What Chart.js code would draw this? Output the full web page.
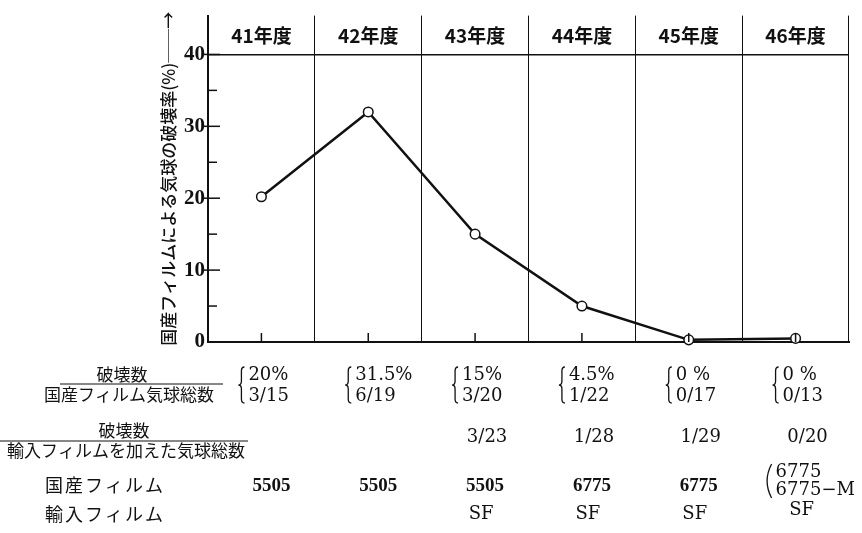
<!DOCTYPE html>
<html>
<head>
<meta charset="utf-8">
<script src="https://cdn.jsdelivr.net/npm/chart.js@4.4.0/dist/chart.umd.min.js"></script>
<style>
	html, body { margin: 0; padding: 0; background: #fff; }
</style>
</head>
<body>
<canvas id="chart" width="862" height="533"></canvas>
<script>
// 年度ごとの値
const years = ['41年度', '42年度', '43年度', '44年度', '45年度', '46年度'];
const breakRate = [20.2, 32, 15, 5, 0.3, 0.5];
const yTickValues = [0, 5, 10, 15, 20, 25, 30, 35, 40];

// 表の行
const rateText = ['20%', '31.5%', '15%', '4.5%', '0 %', '0 %'];
const domesticRatio = ['3/15', '6/19', '3/20', '1/22', '0/17', '0/13'];
const totalRatio = ['', '', '3/23', '1/28', '1/29', '0/20'];
const domesticFilm = [['5505'], ['5505'], ['5505'], ['6775'], ['6775'], ['6775', '6775−M']];
const importFilm = ['', '', 'SF', 'SF', 'SF', 'SF'];

const yTitle = '国産フィルムによる気球の破壊率(%)──→';
const row1Label = ['破壊数', '国産フィルム気球総数'];
const row2Label = ['破壊数', '輸入フィルムを加えた気球総数'];
const row3Label = '国産フィルム';
const row4Label = '輸入フィルム';

const INK = '#111';
const JP = '"Noto Sans CJK JP"';
const SERIF = '"DejaVu Serif"';
const BOLDSERIF = '"Liberation Serif"';

function brace(ctx, x, y1, y2) {
	const m = (y1 + y2) / 2;
	ctx.beginPath();
	ctx.moveTo(x + 6, y1);
	ctx.quadraticCurveTo(x + 3, y1, x + 3, y1 + 4);
	ctx.lineTo(x + 3, m - 4);
	ctx.quadraticCurveTo(x + 3, m, x, m);
	ctx.quadraticCurveTo(x + 3, m, x + 3, m + 4);
	ctx.lineTo(x + 3, y2 - 4);
	ctx.quadraticCurveTo(x + 3, y2, x + 6, y2);
	ctx.stroke();
}

function paren(ctx, x, y1, y2) {
	ctx.beginPath();
	ctx.moveTo(x + 7, y1);
	ctx.quadraticCurveTo(x - 2, (y1 + y2) / 2, x + 7, y2);
	ctx.stroke();
}

const tablePlugin = {
	id: 'tablePlugin',
	afterDraw(chart) {
		const ctx = chart.ctx;
		const xs = chart.scales.x;
		const ys = chart.scales.y;
		const area = chart.chartArea;
		ctx.save();
		ctx.strokeStyle = INK;
		ctx.fillStyle = INK;

		// y軸の目盛り
		ys.ticks.forEach((t) => {
			if (t.value === 0) return;
			const py = ys.getPixelForValue(t.value);
			ctx.lineWidth = 1.5;
			ctx.beginPath();
			if (t.value % 10 === 0) {
				ctx.moveTo(area.left - 6, py);
				ctx.lineTo(area.left + 12, py);
			} else {
				ctx.moveTo(area.left, py);
				ctx.lineTo(area.left + 9, py);
			}
			ctx.stroke();
		});
		// x軸の目盛り
		years.forEach((_, i) => {
			const px = xs.getPixelForValue(i);
			ctx.lineWidth = 1.5;
			ctx.beginPath();
			ctx.moveTo(px, area.bottom);
			ctx.lineTo(px, area.bottom - 9);
			ctx.stroke();
		});

		// 年度の見出し
		const headY = (area.top + ys.getPixelForValue(40)) / 2 + 1;
		ctx.textBaseline = 'middle';
		ctx.textAlign = 'center';
		ctx.font = 'bold 19px ' + JP;
		years.forEach((y, i) => ctx.fillText(y, xs.getPixelForValue(i), headY));

		// 左側の項目名
		ctx.font = '17px ' + JP;
		ctx.fillText(row1Label[0], 122, 375);
		ctx.fillText(row1Label[1], 129, 395);
		ctx.lineWidth = 1.2;
		ctx.beginPath(); ctx.moveTo(60, 384); ctx.lineTo(223, 384); ctx.stroke();
		ctx.fillText(row2Label[0], 124, 431);
		ctx.fillText(row2Label[1], 126, 451);
		ctx.beginPath(); ctx.moveTo(0, 441); ctx.lineTo(248, 441); ctx.stroke();
		ctx.textAlign = 'left';
		ctx.font = '18px ' + JP;
		ctx.letterSpacing = '2px';
		ctx.fillText(row3Label, 45, 485);
		ctx.fillText(row4Label, 45, 514);
		ctx.letterSpacing = '0px';

		// 各年度の値
		years.forEach((_, i) => {
			const cx = xs.getPixelForValue(i);
			ctx.lineWidth = 1.3;
			brace(ctx, cx - 23, 367, 403);
			ctx.textAlign = 'left';
			ctx.font = '18px ' + SERIF;
			ctx.fillText(rateText[i], cx - 13, 375);
			ctx.fillText(domesticRatio[i], cx - 13, 396);

			ctx.textAlign = 'center';
			if (totalRatio[i]) ctx.fillText(totalRatio[i], cx + 12, 437);

			const film = domesticFilm[i];
			if (film.length === 1) {
				ctx.font = 'bold 19px ' + BOLDSERIF;
				ctx.fillText(film[0], cx + 10, 486);
			} else {
				paren(ctx, cx - 31, 464, 498);
				ctx.textAlign = 'left';
				ctx.font = '18px ' + SERIF;
				ctx.fillText(film[0], cx - 20, 472);
				ctx.fillText(film[1], cx - 20, 490);
				ctx.textAlign = 'center';
			}
			if (importFilm[i]) {
				ctx.font = '18px ' + SERIF;
				ctx.fillText(importFilm[i], cx + 6, i === 5 ? 510 : 514);
			}
		});
		ctx.restore();
	},
};

new Chart(document.getElementById('chart'), {
	type: 'line',
	data: {
		labels: years,
		datasets: [
			{
				data: breakRate,
				borderColor: INK,
				borderWidth: 2.5,
				pointRadius: 4.8,
				pointBackgroundColor: '#fff',
				pointBorderColor: INK,
				pointBorderWidth: 1.5,
				tension: 0,
				clip: false,
			},
		],
	},
	options: {
		responsive: false,
		animation: false,
		devicePixelRatio: 1,
		layout: { padding: { left: 158, right: 13, top: 13, bottom: 191 } },
		plugins: { legend: { display: false }, tooltip: { enabled: false } },
		scales: {
			x: {
				offset: true,
				grid: { offset: true, color: INK, lineWidth: 1, drawTicks: false },
				ticks: { display: false },
				border: { color: INK, width: 2 },
				afterFit(s) { s.height = 0; },
			},
			y: {
				min: 0,
				max: 45.4,
				afterBuildTicks(s) { s.ticks = yTickValues.map((v) => ({ value: v })); },
				ticks: {
					callback: (v) => (v % 10 === 0 ? v : ''),
					font: { family: BOLDSERIF, weight: 'bold', size: 21 },
					color: INK,
					padding: 3,
				},
				grid: {
					drawTicks: false,
					color: (c) => (c.tick && c.tick.value === 40 ? INK : 'rgba(0,0,0,0)'),
					lineWidth: 1.5,
				},
				border: { color: INK, width: 2 },
				title: {
					display: true,
					text: yTitle,
					font: { family: JP, size: 17, weight: '500' },
					color: INK,
					padding: 0,
				},
				afterFit(s) { s.width = 50; },
			},
		},
	},
	plugins: [tablePlugin],
});
</script>
</body>
</html>
